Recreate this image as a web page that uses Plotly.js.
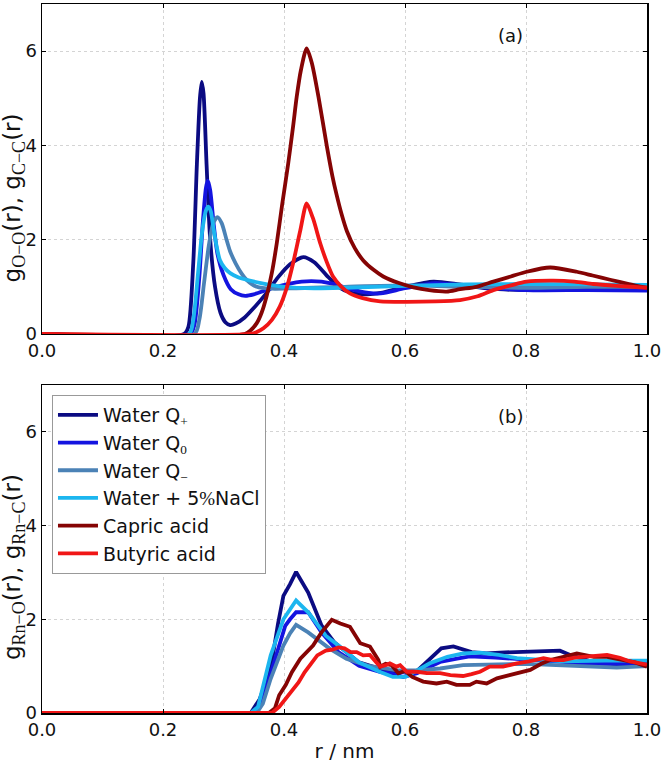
<!DOCTYPE html>
<html>
<head>
<meta charset="utf-8">
<script src="https://cdn.plot.ly/plotly-3.0.1.min.js"></script>
<style>html,body{margin:0;padding:0;background:#fff;}#chart{width:662px;height:763px;}</style>
</head>
<body>
<div id="chart"></div>
<script>
// ---------- Panel (a): g_O-O(r), g_C-C(r) ----------
const rA_qplus = [0, 0.235, 0.242, 0.25, 0.256, 0.261, 0.264, 0.267, 0.272, 0.278, 0.286, 0.295, 0.303, 0.311, 0.32, 0.335, 0.35, 0.37, 0.39, 0.41, 0.432, 0.45, 0.47, 0.49, 0.51, 0.536, 0.56, 0.6, 0.647, 0.69, 0.74, 0.8, 0.9, 1.0];
const gA_qplus = [0, 0, 0.15, 1.5, 3.6, 5.0, 5.35, 5.1, 3.6, 2.0, 1.0, 0.45, 0.25, 0.19, 0.22, 0.35, 0.55, 0.85, 1.2, 1.48, 1.63, 1.52, 1.25, 1.0, 0.88, 0.84, 0.87, 1.0, 1.11, 1.05, 0.96, 0.93, 0.94, 0.93];

const rA_q0 = [0, 0.245, 0.252, 0.26, 0.266, 0.271, 0.274, 0.278, 0.284, 0.29, 0.3, 0.312, 0.325, 0.336, 0.35, 0.38, 0.41, 0.445, 0.48, 0.51, 0.54, 0.56, 0.6, 0.65, 0.7, 0.8, 0.9, 1.0];
const gA_q0 = [0, 0, 0.2, 1.2, 2.4, 3.1, 3.25, 3.05, 2.3, 1.7, 1.25, 0.95, 0.84, 0.81, 0.84, 0.97, 1.07, 1.12, 1.07, 0.95, 0.87, 0.86, 0.97, 1.08, 1.02, 0.93, 0.93, 0.92];

const rA_qminus = [0, 0.252, 0.26, 0.268, 0.276, 0.283, 0.29, 0.297, 0.305, 0.311, 0.32, 0.33, 0.338, 0.355, 0.38, 0.42, 0.5, 0.6, 0.7, 0.8, 0.9, 1.0];
const gA_qminus = [0, 0, 0.3, 1.1, 1.9, 2.35, 2.48, 2.35, 2.0, 1.75, 1.5, 1.28, 1.15, 1.0, 0.96, 0.97, 1.0, 1.03, 1.0, 0.98, 1.0, 1.0];

const rA_nacl = [0, 0.243, 0.25, 0.258, 0.265, 0.271, 0.275, 0.279, 0.283, 0.288, 0.294, 0.302, 0.311, 0.325, 0.338, 0.366, 0.4, 0.45, 0.5, 0.6, 0.7, 0.8, 0.9, 1.0];
const gA_nacl = [0, 0, 0.3, 1.3, 2.2, 2.62, 2.7, 2.6, 2.28, 1.9, 1.57, 1.4, 1.29, 1.2, 1.15, 1.07, 1.0, 0.97, 0.98, 1.02, 1.05, 1.06, 1.05, 1.04];

const rA_capric = [0, 0.335, 0.345, 0.355, 0.363, 0.371, 0.38, 0.388, 0.397, 0.407, 0.415, 0.421, 0.428, 0.4375, 0.446, 0.457, 0.471, 0.48, 0.487, 0.495, 0.504, 0.517, 0.531, 0.548, 0.564, 0.59, 0.614, 0.64, 0.669, 0.691, 0.718, 0.746, 0.775, 0.801, 0.84, 0.884, 0.91, 0.939, 0.97, 1.0];
const gA_capric = [0, 0, 0.08, 0.23, 0.45, 0.79, 1.3, 1.92, 2.75, 3.62, 4.4, 5.03, 5.6, 6.06, 5.75, 5.03, 3.97, 3.35, 2.95, 2.55, 2.18, 1.82, 1.56, 1.36, 1.22, 1.08, 0.99, 0.93, 0.9, 0.95, 1.0, 1.11, 1.22, 1.32, 1.41, 1.32, 1.24, 1.15, 1.06, 0.98];

const rA_butyric = [0, 0.345, 0.355, 0.366, 0.38, 0.393, 0.405, 0.415, 0.427, 0.4375, 0.448, 0.46, 0.47, 0.481, 0.495, 0.509, 0.53, 0.559, 0.6, 0.65, 0.691, 0.72, 0.746, 0.775, 0.801, 0.845, 0.88, 0.911, 0.95, 1.0];
const gA_butyric = [0, 0, 0.04, 0.12, 0.3, 0.58, 1.0, 1.5, 2.2, 2.77, 2.45, 1.92, 1.55, 1.22, 1.0, 0.86, 0.76, 0.69, 0.68, 0.69, 0.72, 0.8, 0.93, 1.03, 1.11, 1.13, 1.11, 1.06, 1.02, 0.98];

// ---------- Panel (b): g_Rn-O(r), g_Rn-C(r) ----------
const rB_qplus = [0, 0.345, 0.36, 0.378, 0.39, 0.399, 0.41, 0.42, 0.44, 0.462, 0.483, 0.503, 0.524, 0.56, 0.587, 0.62, 0.645, 0.66, 0.68, 0.71, 0.734, 0.757, 0.807, 0.856, 0.873, 0.895, 0.917, 0.94, 0.961, 0.98, 1.0];
const gB_qplus = [0, 0, 0.3, 0.94, 1.9, 2.5, 2.75, 3.01, 2.57, 1.87, 1.51, 1.30, 1.08, 0.94, 0.87, 0.9, 1.2, 1.38, 1.42, 1.3, 1.27, 1.29, 1.31, 1.33, 1.24, 1.15, 1.06, 1.05, 1.02, 1.03, 1.05];

const rB_q0 = [0, 0.35, 0.365, 0.378, 0.39, 0.402, 0.41, 0.42, 0.44, 0.462, 0.49, 0.524, 0.56, 0.575, 0.597, 0.62, 0.64, 0.658, 0.686, 0.707, 0.75, 0.8, 0.85, 0.9, 0.95, 1.0];
const gB_q0 = [0, 0, 0.3, 0.87, 1.4, 1.86, 2.0, 2.15, 2.15, 1.72, 1.3, 1.01, 0.87, 0.85, 0.77, 0.85, 0.98, 1.09, 1.16, 1.21, 1.18, 1.15, 1.1, 1.05, 1.05, 1.05];

const rB_qminus = [0, 0.355, 0.365, 0.378, 0.399, 0.41, 0.42, 0.44, 0.476, 0.503, 0.538, 0.587, 0.622, 0.658, 0.696, 0.75, 0.8, 0.85, 0.9, 0.95, 1.0];
const gB_qminus = [0, 0, 0.2, 0.73, 1.44, 1.7, 1.88, 1.72, 1.37, 1.16, 1.01, 0.91, 0.91, 0.95, 1.02, 1.03, 1.05, 1.02, 1.0, 0.97, 1.0];

const rB_nacl = [0, 0.345, 0.357, 0.378, 0.399, 0.42, 0.44, 0.469, 0.49, 0.524, 0.56, 0.58, 0.601, 0.641, 0.67, 0.696, 0.724, 0.755, 0.785, 0.83, 0.862, 0.93, 1.0];
const gB_nacl = [0, 0, 0.13, 1.23, 2.0, 2.4, 2.15, 1.65, 1.44, 1.08, 0.87, 0.77, 0.77, 1.06, 1.2, 1.27, 1.29, 1.24, 1.17, 1.12, 1.1, 1.12, 1.12];

const rB_capric = [0, 0.375, 0.385, 0.392, 0.403, 0.413, 0.427, 0.438, 0.448, 0.462, 0.479, 0.493, 0.509, 0.526, 0.542, 0.556, 0.559, 0.568, 0.578, 0.589, 0.6, 0.612, 0.63, 0.652, 0.669, 0.685, 0.707, 0.718, 0.735, 0.752, 0.774, 0.785, 0.807, 0.825, 0.84, 0.862, 0.884, 0.912, 0.934, 0.961, 0.98, 1.0];
const gB_capric = [0, 0, 0.1, 0.38, 0.6, 0.87, 1.16, 1.3, 1.44, 1.72, 1.99, 1.91, 1.84, 1.49, 1.42, 1.13, 0.99, 1.05, 1.02, 0.85, 0.9, 0.77, 0.67, 0.63, 0.67, 0.6, 0.6, 0.67, 0.63, 0.74, 0.81, 0.85, 0.92, 1.05, 1.13, 1.2, 1.27, 1.2, 1.2, 1.13, 1.08, 0.99];

const rB_butyric = [0, 0.38, 0.392, 0.403, 0.413, 0.424, 0.434, 0.445, 0.455, 0.469, 0.48, 0.49, 0.5, 0.51, 0.52, 0.531, 0.542, 0.552, 0.559, 0.568, 0.575, 0.586, 0.592, 0.603, 0.62, 0.636, 0.658, 0.675, 0.696, 0.71, 0.724, 0.74, 0.762, 0.785, 0.805, 0.829, 0.845, 0.862, 0.88, 0.895, 0.915, 0.934, 0.955, 0.972, 1.0];
const gB_butyric = [0, 0, 0.13, 0.3, 0.45, 0.65, 0.87, 1.05, 1.23, 1.33, 1.35, 1.4, 1.38, 1.3, 1.3, 1.23, 1.24, 1.09, 0.99, 1.02, 1.06, 0.99, 1.02, 0.88, 0.88, 0.85, 0.85, 0.81, 0.79, 0.83, 0.88, 0.99, 0.99, 1.06, 1.1, 1.17, 1.13, 1.13, 1.18, 1.2, 1.22, 1.24, 1.18, 1.1, 1.03];

// ---------- Labels ----------
const SERIF = "font-family:'Liberation Serif',serif";
const SUBT = "font-family:'Liberation Serif',serif;font-size:18px";
const seriesNames = [
  "Water Q<sub><span style=\"" + SERIF + "\">+</span></sub>",
  "Water Q<sub><span style=\"" + SERIF + "\">0</span></sub>",
  "Water Q<sub><span style=\"" + SERIF + "\">−</span></sub>",
  "Water + 5<span style=\"" + SERIF + "\">%</span>NaCl",
  "Capric acid",
  "Butyric acid"
];
const yTitleA = "g<sub><span style=\"" + SUBT + "\">O−O</span></sub>(r), g<sub><span style=\"" + SUBT + "\">C−C</span></sub>(r)";
const yTitleB = "g<sub><span style=\"" + SUBT + "\">Rn−O</span></sub>(r), g<sub><span style=\"" + SUBT + "\">Rn−C</span></sub>(r)";
const seriesColors = ["#0b0b82", "#1414e0", "#4b82b6", "#1cb6ef", "#850404", "#f01616"];
const xTickVals = [0, 0.2, 0.4, 0.6, 0.8, 1.0];
const yTickVals = [0, 2, 4, 6];

const seriesA = [[rA_qplus, gA_qplus], [rA_q0, gA_q0], [rA_qminus, gA_qminus], [rA_nacl, gA_nacl], [rA_capric, gA_capric], [rA_butyric, gA_butyric]];
const seriesB = [[rB_qplus, gB_qplus], [rB_q0, gB_q0], [rB_qminus, gB_qminus], [rB_nacl, gB_nacl], [rB_capric, gB_capric], [rB_butyric, gB_butyric]];

const traces = [];
seriesA.forEach((s, i) => {
  traces.push({x: s[0], y: s[1], xaxis: 'x', yaxis: 'y', mode: 'lines', name: seriesNames[i],
    showlegend: false, line: {color: seriesColors[i], width: 3.8, shape: 'spline', smoothing: 0.7}});
});
seriesB.forEach((s, i) => {
  traces.push({x: s[0], y: s[1], xaxis: 'x2', yaxis: 'y2', mode: 'lines', name: seriesNames[i],
    legendgroup: 'g' + i, showlegend: true, line: {color: seriesColors[i], width: 3.8}});
});

const FONT = 'DejaVu Sans, sans-serif';
const tickFont = {family: FONT, size: 18, color: '#111'};
function xAxis(anchor, withTitle) {
  const ax = {range: [0, 1], tickvals: xTickVals, tickformat: '.1f', ticks: 'inside', ticklen: 4,
    tickcolor: '#000', showline: true, linecolor: '#000', linewidth: 1.5, mirror: 'ticks',
    showgrid: true, gridcolor: '#d4d4d4', griddash: 'dot', gridwidth: 1, zeroline: false,
    tickfont: tickFont, anchor: anchor, domain: [0, 1]};
  if (withTitle) ax.title = {text: 'r / nm', font: {family: FONT, size: 20, color: '#111'}, standoff: 6};
  return ax;
}
function yAxis(anchor, dom) {
  return {range: [0, 7], tickvals: yTickVals, ticks: 'inside', ticklen: 4, tickcolor: '#000',
    showline: true, linecolor: '#000', linewidth: 1.5, mirror: 'ticks',
    showgrid: true, gridcolor: '#d4d4d4', griddash: 'dot', gridwidth: 1, zeroline: false,
    tickfont: tickFont, anchor: anchor, domain: dom};
}

const layout = {
  width: 662, height: 763,
  margin: {l: 42, r: 15, t: 4, b: 50},
  paper_bgcolor: '#fff', plot_bgcolor: '#fff',
  showlegend: true,
  xaxis: xAxis('y', false),
  yaxis: yAxis('x', [0.5346, 1]),
  xaxis2: xAxis('y2', true),
  yaxis2: yAxis('x2', [0, 0.4626]),
  legend: {x: 0.0165, y: 0.4485, xanchor: 'left', yanchor: 'top', bgcolor: '#fff',
    bordercolor: '#999', borderwidth: 1, font: {family: FONT, size: 19, color: '#111'},
    tracegroupgap: 0, itemwidth: 40},
  annotations: [
    {text: '(a)', x: 0.775, y: 6.33, xref: 'x', yref: 'y', showarrow: false, font: {family: FONT, size: 18, color: '#111'}},
    {text: '(b)', x: 0.775, y: 6.33, xref: 'x2', yref: 'y2', showarrow: false, font: {family: FONT, size: 18, color: '#111'}},
    {text: yTitleA, textangle: -90, x: -0.046, y: 0.726, xref: 'paper', yref: 'paper', xanchor: 'center', yanchor: 'middle',
      showarrow: false, font: {family: FONT, size: 23, color: '#111'}},
    {text: yTitleB, textangle: -90, x: -0.046, y: 0.206, xref: 'paper', yref: 'paper', xanchor: 'center', yanchor: 'middle',
      showarrow: false, font: {family: FONT, size: 23, color: '#111'}}
  ]
};

Plotly.newPlot('chart', traces, layout, {displayModeBar: false, staticPlot: true});
</script>
</body>
</html>
